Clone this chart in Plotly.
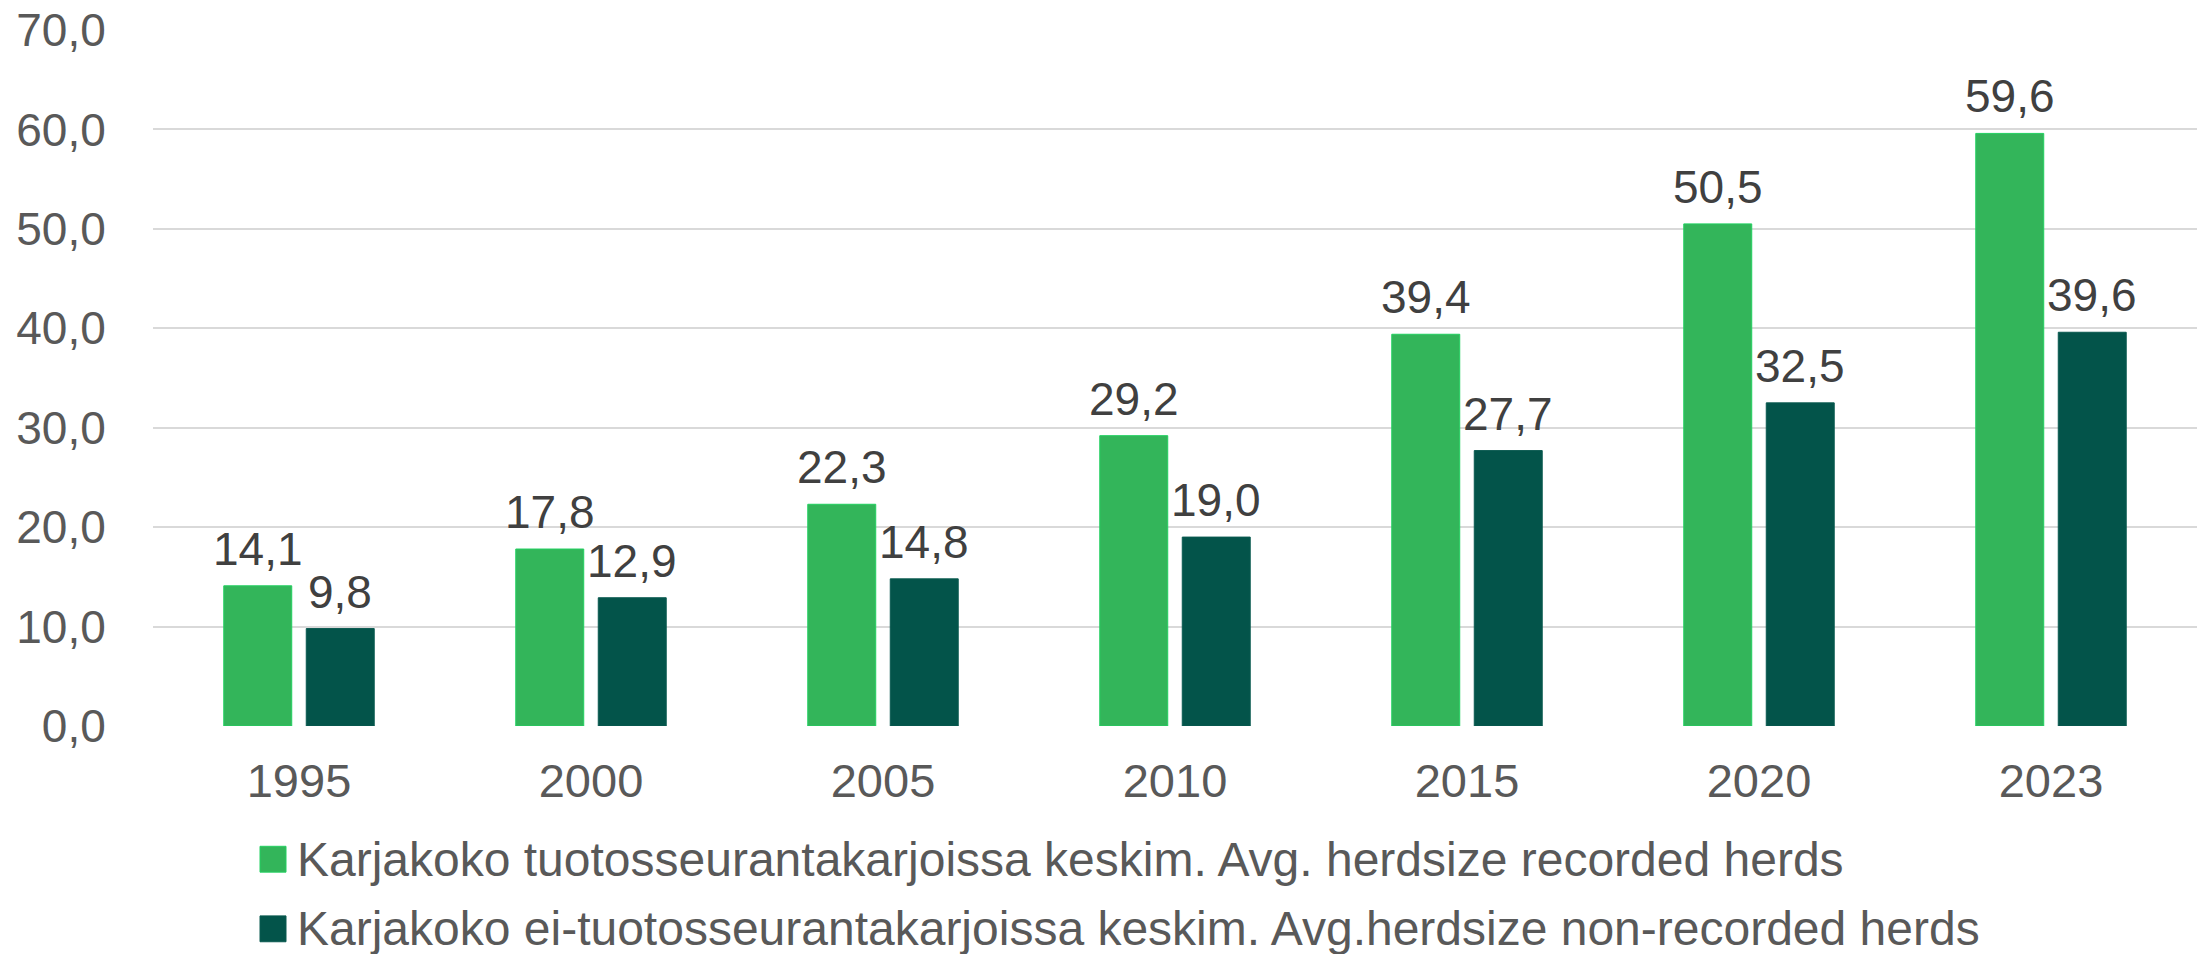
import plotly.graph_objects as go

years = ["1995", "2000", "2005", "2010", "2015", "2020", "2023"]
recorded = [14.1, 17.8, 22.3, 29.2, 39.4, 50.5, 59.6]
non_recorded = [9.8, 12.9, 14.8, 19.0, 27.7, 32.5, 39.6]
series_names = [
    "Karjakoko tuotosseurantakarjoissa keskim. Avg. herdsize recorded herds",
    "Karjakoko ei-tuotosseurantakarjoissa keskim. Avg.herdsize non-recorded herds",
]
y_ticks = [0, 10, 20, 30, 40, 50, 60, 70]

FONT = "Liberation Sans, Arial, sans-serif"
fill_colors = ["#33B55A", "#03544A"]
line_colors = ["#22D060", "#0A5A50"]

W, H = 2201, 954
L, R, T, B = 153, 4, 26, 228
plot_w = W - L - R
plot_h = H - T - B
BARGAP, BARGROUPGAP = 0.435, 0.176

fig = go.Figure()
series = [recorded, non_recorded]
for vals, name, fc, lc in zip(series, series_names, fill_colors, line_colors):
    fig.add_trace(go.Bar(
        x=years, y=vals, name=name,
        marker=dict(color=fc, line=dict(color=lc, width=1)),
        showlegend=False,
    ))

# value labels above each bar, placed through the data axes
# (on a category axis annotations use the category's serial number)
cat_w = plot_w / len(years)
slot_w = cat_w * (1 - BARGAP) / len(series)
for i, vals in enumerate(series):
    dx = (i - (len(series) - 1) / 2) * slot_w
    for j, v in enumerate(vals):
        fig.add_annotation(
            x=j, y=v, xref="x", yref="y", xshift=dx, yshift=9,
            xanchor="center", yanchor="bottom", showarrow=False,
            text=f"{v:.1f}".replace(".", ","),
            font=dict(family=FONT, size=46, color="#404040"),
        )

# custom legend (larger square swatches like the original)
legend_rows_px = [860, 930]
for name, fc, lc, ypx in zip(series_names, fill_colors, line_colors, legend_rows_px):
    yc = (H - B - ypx) / plot_h
    half = 13 / plot_h
    fig.add_shape(type="rect", xref="paper", yref="paper",
                  x0=(260 - L) / plot_w, x1=(286 - L) / plot_w,
                  y0=yc - half, y1=yc + half,
                  fillcolor=fc, line=dict(color=lc, width=1))
    fig.add_annotation(xref="paper", yref="paper", x=(295 - L) / plot_w, y=yc,
                       xanchor="left", yanchor="middle", showarrow=False,
                       text=name, font=dict(family=FONT, size=48, color="#595959"))

fig.update_layout(
    width=W, height=H,
    margin=dict(l=L, r=R, t=T, b=B, pad=0),
    paper_bgcolor="white", plot_bgcolor="white",
    separators=", ",
    barmode="group", bargap=BARGAP, bargroupgap=BARGROUPGAP,
    font=dict(family=FONT, size=46, color="#595959"),
    showlegend=False,
)
fig.update_xaxes(type="category", range=[-0.5, len(years) - 0.5],
                 showgrid=False, zeroline=False, showline=False,
                 ticks="outside", ticklen=14, tickcolor="rgba(0,0,0,0)",
                 tickfont=dict(family=FONT, size=47, color="#595959"))
fig.update_yaxes(range=[0, 70], tickvals=y_ticks, tickformat=".1f",
                 showgrid=True, gridcolor="#D9D9D9", gridwidth=2,
                 zeroline=False, showline=False,
                 ticks="outside", ticklen=37, tickcolor="rgba(0,0,0,0)",
                 tickfont=dict(family=FONT, size=46, color="#595959"))

fig.write_html("out.html", config={"displayModeBar": False},
               post_script="document.body.style.margin='0';")
